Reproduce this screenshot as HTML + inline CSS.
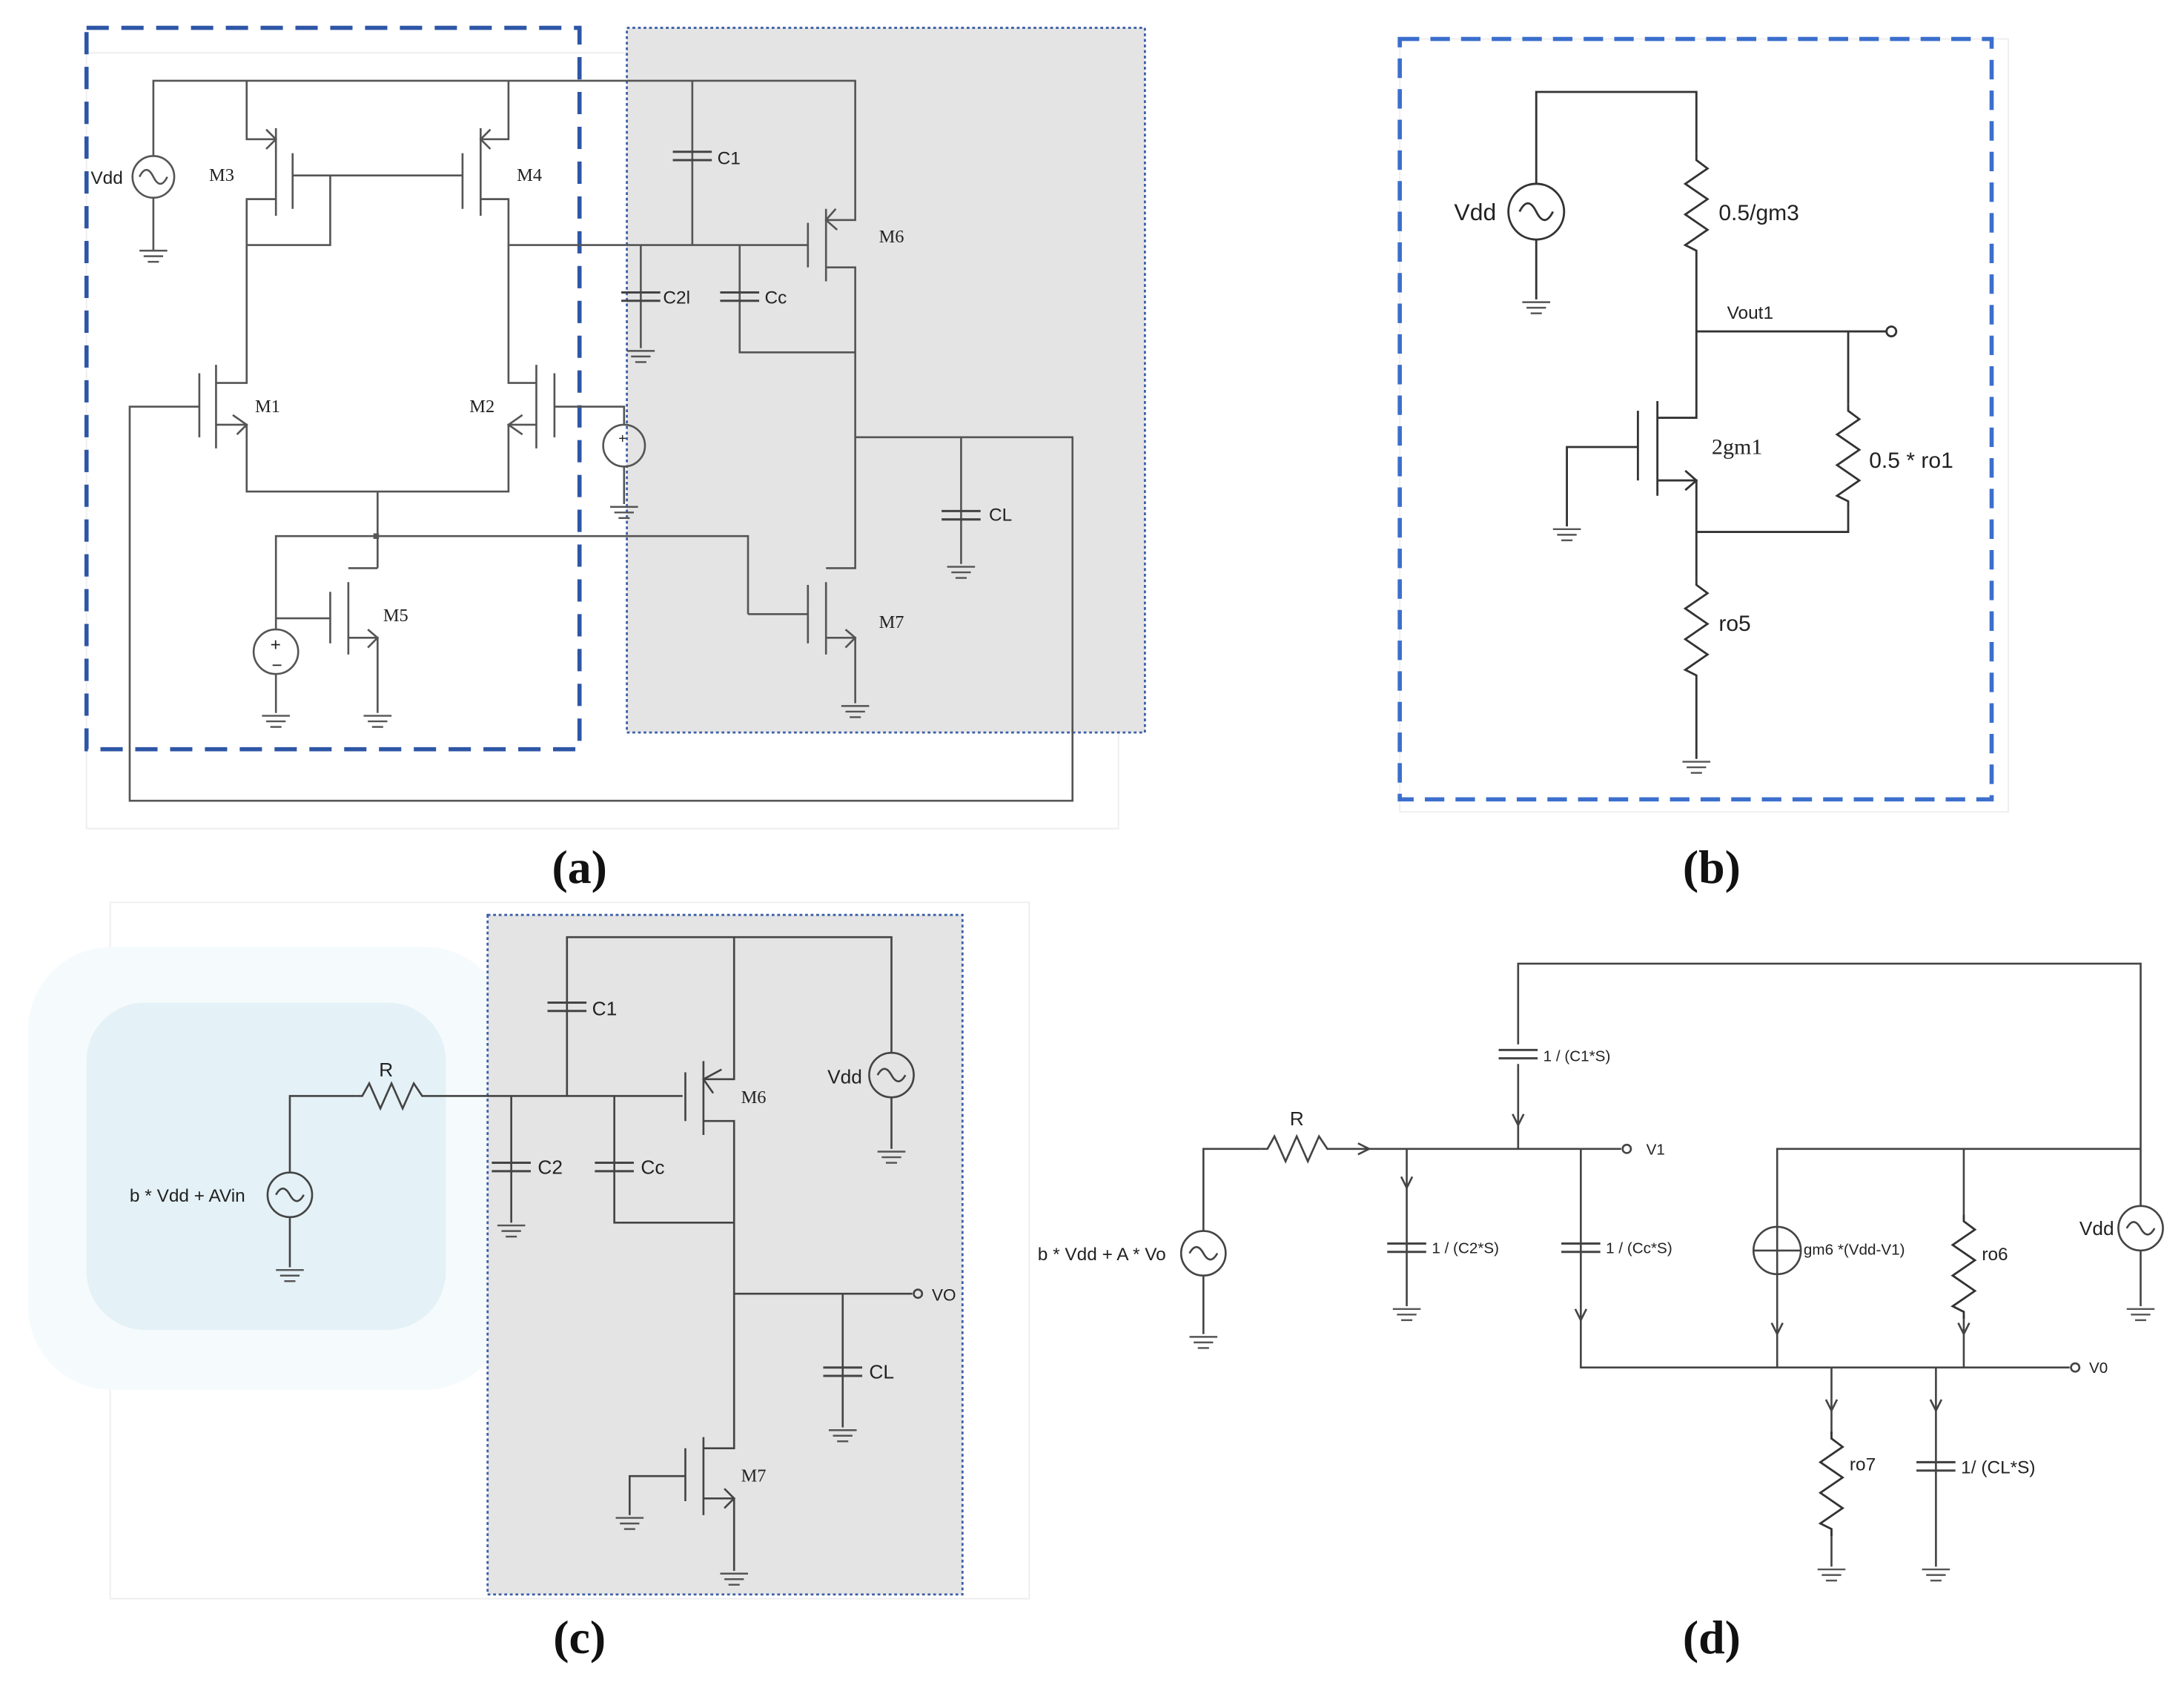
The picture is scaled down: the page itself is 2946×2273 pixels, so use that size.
<!DOCTYPE html>
<html><head><style>html,body{margin:0;padding:0;background:#fff}svg{display:block}</style></head><body>
<svg xmlns="http://www.w3.org/2000/svg" width="2946" height="2273" viewBox="0 0 1568 1210">
<defs>
<g id="gnd" stroke="#555" stroke-width="1.3"><line x1="-10" y1="0" x2="10" y2="0"/><line x1="-7" y1="4" x2="7" y2="4"/><line x1="-4" y1="8" x2="4" y2="8"/></g>
<g id="res" fill="none" stroke="#333" stroke-width="1.5"><polyline points="0,0 0,5 8,11 -8,22 8,33 -8,44 8,55 -8,66 0,70 0,75"/></g>
<g id="capv" stroke="#444" stroke-width="1.6"><line x1="-14" y1="-3" x2="14" y2="-3"/><line x1="-14" y1="3" x2="14" y2="3"/></g>
</defs>
<rect width="1568" height="1210" fill="#fff"/>
<!-- Panel a -->
<rect x="62" y="38" width="741" height="557" fill="none" stroke="#eee"/>
<rect x="450" y="20" width="372" height="506" fill="#e4e4e4" stroke="#3b5fa8" stroke-width="1.5" stroke-dasharray="2,2"/>
<rect x="62" y="20" width="354" height="518" fill="none" stroke="#2e56a6" stroke-width="3" stroke-dasharray="16,9"/>
<g fill="none" stroke="#555" stroke-width="1.4">
<polyline points="110,112 110,58 614,58 614,158 593,158"/>
<line x1="110" y1="142" x2="110" y2="180"/>
<polyline points="177,58 177,100 198,100"/>
<line x1="198" y1="92" x2="198" y2="155"/>
<line x1="210" y1="110" x2="210" y2="150"/>
<line x1="210" y1="126" x2="332" y2="126"/>
<line x1="332" y1="110" x2="332" y2="150"/>
<line x1="345" y1="92" x2="345" y2="155"/>
<polyline points="198,143 177,143 177,275 155,275"/>
<polyline points="177,176 237,176 237,126"/>
<polyline points="365,58 365,100 345,100"/>
<polyline points="345,143 365,143 365,275 385,275"/>
<line x1="365" y1="176" x2="580" y2="176"/>
<line x1="155" y1="262" x2="155" y2="322"/><line x1="143" y1="268" x2="143" y2="314"/>
<polyline points="143,292 93,292 93,575 770,575 770,314 614,314"/>
<polyline points="155,305 177,305 177,353 365,353 365,305 385,305"/>
<line x1="385" y1="262" x2="385" y2="322"/><line x1="398" y1="268" x2="398" y2="314"/>
<polyline points="398,292 448,292 448,305"/><line x1="448" y1="335" x2="448" y2="362"/>
<line x1="271" y1="353" x2="271" y2="408"/>
<polyline points="537,441 537,385 198,385 198,452"/>
<line x1="198" y1="484" x2="198" y2="512"/>
<line x1="250" y1="418" x2="250" y2="470"/><line x1="237" y1="425" x2="237" y2="462"/>
<polyline points="198,444 237,444"/>
<polyline points="250,408 271,408"/><polyline points="250,458 271,458 271,512"/>
<line x1="497" y1="58" x2="497" y2="176"/>
<line x1="460" y1="176" x2="460" y2="250"/>
<polyline points="531,176 531,253 614,253"/>
<line x1="593" y1="150" x2="593" y2="202"/><line x1="580" y1="160" x2="580" y2="192"/>
<polyline points="593,192 614,192 614,408 593,408"/>
<line x1="593" y1="418" x2="593" y2="470"/><line x1="580" y1="420" x2="580" y2="462"/>
<polyline points="537,441 580,441"/>
<polyline points="593,458 614,458 614,505"/>
<line x1="690" y1="314" x2="690" y2="405"/>
<circle cx="110" cy="127" r="15"/><circle cx="448" cy="320" r="15"/><circle cx="198" cy="468" r="16"/>
<path d="M100,127 q5,-10 10,0 t10,0"/>
<polyline points="167,298 177,305 170,312"/><polyline points="600,150 593,158 601,165"/>
<polyline points="191,93 198,100 191,107"/><polyline points="352,93 345,100 352,107"/>
<polyline points="375,298 365,305 375,312"/><polyline points="264,452 271,458 264,465"/><polyline points="607,452 614,458 607,465"/>
</g>
<rect x="268" y="383" width="4" height="4" fill="#555"/>
<use href="#capv" x="497" y="112"/><use href="#capv" x="460" y="213"/><use href="#capv" x="531" y="213"/><use href="#capv" x="690" y="370"/>
<use href="#gnd" x="110" y="180"/><use href="#gnd" x="460" y="252"/><use href="#gnd" x="448" y="364"/><use href="#gnd" x="198" y="514"/><use href="#gnd" x="271" y="514"/><use href="#gnd" x="614" y="507"/><use href="#gnd" x="690" y="407"/>
<g font-family="Liberation Sans, sans-serif" font-size="13" fill="#222">
<text x="65" y="132">Vdd</text><text x="515" y="118">C1</text><text x="476" y="218">C2l</text><text x="549" y="218">Cc</text><text x="710" y="374">CL</text>
<text x="444" y="318" font-size="10">+</text><text x="194" y="467" font-size="13">+</text><text x="195" y="482" font-size="13">−</text>
</g>
<g font-family="Liberation Serif, serif" font-size="13" fill="#222">
<text x="150" y="130">M3</text><text x="371" y="130">M4</text><text x="631" y="174">M6</text><text x="183" y="296">M1</text><text x="337" y="296">M2</text><text x="275" y="446">M5</text><text x="631" y="451">M7</text>
</g>
<!-- Panel b -->
<rect x="1005" y="28" width="437" height="555" fill="none" stroke="#eee"/>
<rect x="1005" y="28" width="425" height="546" fill="none" stroke="#3c6fcd" stroke-width="3" stroke-dasharray="14,8"/>
<g fill="none" stroke="#333" stroke-width="1.5">
<polyline points="1103,132 1103,66 1218,66 1218,110"/>
<line x1="1103" y1="172" x2="1103" y2="215"/>
<circle cx="1103" cy="152" r="20"/><path d="M1091,152 q6,-12 12,0 t12,0"/>
<polyline points="1218,185 1218,300 1190,300"/>
<line x1="1218" y1="238" x2="1354" y2="238"/><circle cx="1358" cy="238" r="3.5"/>
<polyline points="1327,238 1327,290"/><polyline points="1327,365 1327,382 1218,382"/>
<line x1="1190" y1="288" x2="1190" y2="356"/><line x1="1176" y1="295" x2="1176" y2="345"/>
<polyline points="1176,321 1125,321 1125,378"/>
<polyline points="1190,345 1218,345 1218,415"/><polyline points="1210,338 1218,345 1210,352"/>
<line x1="1218" y1="490" x2="1218" y2="545"/>
</g>
<use href="#res" x="1218" y="110"/><use href="#res" x="1327" y="290"/><use href="#res" x="1218" y="415"/>
<use href="#gnd" x="1103" y="217"/><use href="#gnd" x="1125" y="380"/><use href="#gnd" x="1218" y="547"/>
<g font-family="Liberation Sans, sans-serif" fill="#222">
<text x="1044" y="158" font-size="17">Vdd</text><text x="1234" y="158" font-size="16">0.5/gm3</text><text x="1240" y="229" font-size="13">Vout1</text>
<text x="1342" y="336" font-size="16">0.5 * ro1</text><text x="1234" y="453" font-size="16">ro5</text>
<text x="1229" y="326" font-size="16" font-family="Liberation Serif, serif">2gm1</text>
</g>
<!-- Panel c -->
<rect x="79" y="648" width="660" height="500" fill="none" stroke="#eee"/>
<rect x="20" y="680" width="345" height="318" rx="60" fill="#f5fafc"/>
<rect x="62" y="720" width="258" height="235" rx="42" fill="#e4f1f6"/>
<rect x="350" y="657" width="341" height="488" fill="#e4e4e4" stroke="#3b5fa8" stroke-width="1.5" stroke-dasharray="2,2"/>
<g fill="none" stroke="#444" stroke-width="1.4">
<polyline points="208,842 208,787 255,787"/>
<polyline points="255,787 260,787 265,778 273,796 281,778 289,796 297,778 303,787 490,787"/>
<line x1="208" y1="874" x2="208" y2="910"/>
<circle cx="208" cy="858" r="16"/><path d="M198,858 q5,-9 10,0 t10,0"/>
<polyline points="407,787 407,673 640,673 640,756"/><line x1="640" y1="788" x2="640" y2="825"/>
<circle cx="640" cy="772" r="16"/><path d="M630,772 q5,-9 10,0 t10,0"/>
<line x1="367" y1="787" x2="367" y2="878"/>
<polyline points="441,787 441,878 527,878"/>
<line x1="505" y1="762" x2="505" y2="815"/><line x1="492" y1="770" x2="492" y2="805"/>
<polyline points="527,673 527,775 505,775"/><polyline points="518,768 505,775 512,785"/>
<polyline points="505,805 527,805 527,1040 505,1040"/>
<line x1="527" y1="929" x2="655" y2="929"/><circle cx="659" cy="929" r="3"/>
<line x1="605" y1="929" x2="605" y2="1025"/>
<line x1="505" y1="1032" x2="505" y2="1088"/><line x1="492" y1="1040" x2="492" y2="1078"/>
<polyline points="492,1060 452,1060 452,1088"/>
<polyline points="505,1076 527,1076 527,1128"/><polyline points="520,1069 527,1076 520,1083"/>
</g>
<use href="#capv" x="407" y="723"/><use href="#capv" x="367" y="838"/><use href="#capv" x="441" y="838"/><use href="#capv" x="605" y="985"/>
<use href="#gnd" x="208" y="912"/><use href="#gnd" x="640" y="827"/><use href="#gnd" x="367" y="880"/><use href="#gnd" x="605" y="1027"/><use href="#gnd" x="452" y="1090"/><use href="#gnd" x="527" y="1130"/>
<g font-family="Liberation Sans, sans-serif" font-size="14" fill="#222">
<text x="272" y="773">R</text><text x="93" y="863" font-size="13">b * Vdd + AVin</text><text x="425" y="729">C1</text><text x="386" y="843">C2</text><text x="460" y="843">Cc</text>
<text x="594" y="778">Vdd</text><text x="669" y="934" font-size="12">VO</text><text x="624" y="990">CL</text>
</g>
<g font-family="Liberation Serif, serif" font-size="13" fill="#222"><text x="532" y="792">M6</text><text x="532" y="1064">M7</text></g>
<!-- Panel d -->
<g fill="none" stroke="#444" stroke-width="1.4">
<polyline points="1090,750 1090,692 1537,692 1537,866"/><line x1="1537" y1="898" x2="1537" y2="938"/>
<circle cx="1537" cy="882" r="16"/><path d="M1527,882 q5,-9 10,0 t10,0"/>
<line x1="1090" y1="764" x2="1090" y2="825"/>
<polyline points="864,884 864,825 905,825"/>
<polyline points="905,825 910,825 915,816 923,834 931,816 939,834 947,816 953,825 1164,825"/>
<circle cx="1168" cy="825" r="3"/>
<line x1="864" y1="916" x2="864" y2="958"/>
<circle cx="864" cy="900" r="16"/><path d="M854,900 q5,-9 10,0 t10,0"/>
<line x1="1010" y1="825" x2="1010" y2="938"/>
<polyline points="1135,825 1135,982 1486,982"/><circle cx="1490" cy="982" r="3"/>
<polyline points="1276,982 1276,825 1537,825"/>
<circle cx="1276" cy="898" r="17"/><line x1="1259" y1="898" x2="1293" y2="898"/>
<line x1="1410" y1="825" x2="1410" y2="872"/><line x1="1410" y1="945" x2="1410" y2="982"/>
<line x1="1315" y1="982" x2="1315" y2="1030"/><line x1="1315" y1="1100" x2="1315" y2="1125"/>
<line x1="1390" y1="982" x2="1390" y2="1125"/>
<polyline points="1086,800 1090,808 1094,800"/><polyline points="975,821 983,825 975,829"/>
<polyline points="1006,845 1010,853 1014,845"/><polyline points="1131,940 1135,948 1139,940"/>
<polyline points="1272,950 1276,958 1280,950"/><polyline points="1406,950 1410,958 1414,950"/>
<polyline points="1311,1005 1315,1013 1319,1005"/><polyline points="1386,1005 1390,1013 1394,1005"/>
</g>
<rect x="1075" y="750" width="30" height="14" fill="#fff"/>
<use href="#capv" x="1090" y="757"/><use href="#capv" x="1010" y="896"/><use href="#capv" x="1135" y="896"/><use href="#capv" x="1390" y="1053"/>
<use href="#res" x="1410" y="872"/><use href="#res" x="1315" y="1028"/>
<use href="#gnd" x="864" y="960"/><use href="#gnd" x="1010" y="940"/><use href="#gnd" x="1537" y="940"/><use href="#gnd" x="1315" y="1127"/><use href="#gnd" x="1390" y="1127"/>
<g font-family="Liberation Sans, sans-serif" font-size="11" fill="#222">
<text x="926" y="808" font-size="14">R</text><text x="1108" y="762">1 / (C1*S)</text><text x="1182" y="829">V1</text>
<text x="745" y="905" font-size="13">b * Vdd + A * Vo</text><text x="1028" y="900">1 / (C2*S)</text><text x="1153" y="900">1 / (Cc*S)</text>
<text x="1295" y="901">gm6 *(Vdd-V1)</text><text x="1423" y="905" font-size="13">ro6</text><text x="1493" y="887" font-size="14">Vdd</text>
<text x="1500" y="986">V0</text><text x="1328" y="1056" font-size="13">ro7</text><text x="1408" y="1058" font-size="13">1/ (CL*S)</text>
</g>
<!-- captions -->
<g font-family="Liberation Serif, serif" font-size="34" font-weight="bold" fill="#111" text-anchor="middle">
<text x="416" y="634">(a)</text><text x="1229" y="634">(b)</text><text x="416" y="1187">(c)</text><text x="1229" y="1187">(d)</text>
</g>
</svg>
</body></html>
